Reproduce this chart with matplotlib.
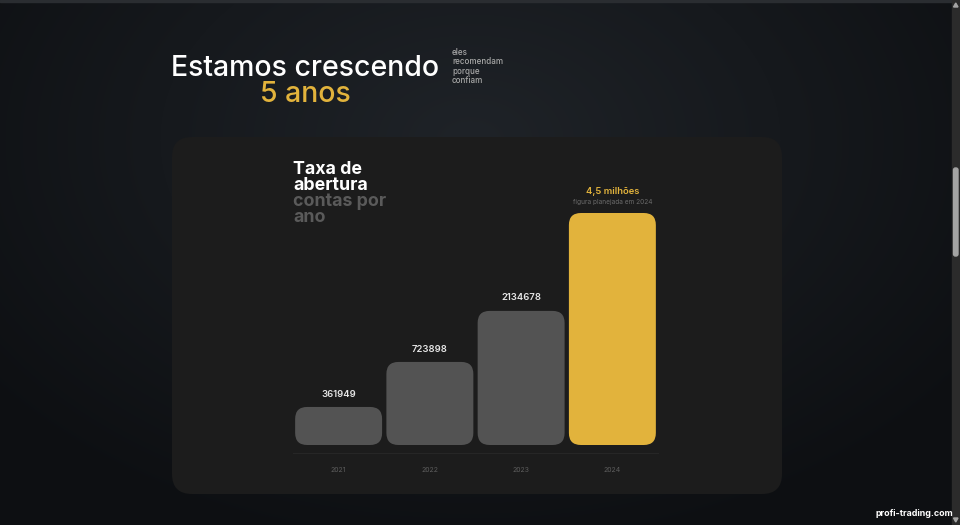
import numpy as np
import matplotlib
matplotlib.use("Agg")
import matplotlib.pyplot as plt
from matplotlib.patches import FancyBboxPatch, Rectangle, Polygon

plt.rcParams["font.family"] = ["Inter", "DejaVu Sans"]

# data
years = ["2021", "2022", "2023", "2024"]
value_labels = ["361949", "723898", "2134678", "4,5 milhões"]
bar_heights = [16.4, 35.8, 57.8, 100]   # visual height, % of tallest bar
bar_colors = ["#535353", "#535353", "#535353", "#e2b33c"]

W, H = 960, 525
fig = plt.figure(figsize=(W / 100, H / 100), dpi=100)


def fx(px):
    return px / W


def fy(py):
    return 1 - py / H


# page background: dark radial glow
bg = fig.add_axes([0, 0, 1, 1])
bg.set_axis_off()
yy, xx = np.mgrid[0:H, 0:W]
d = np.sqrt(((xx - 470) / 620) ** 2 + ((yy - 140) / 420) ** 2)
t = np.clip(d, 0, 1)[..., None]
c0 = np.array([0x1f, 0x23, 0x28]) / 255
c1 = np.array([0x0d, 0x0f, 0x12]) / 255
img = c0 * (1 - t) + c1 * t
bg.imshow(img, extent=[0, W, H, 0], aspect="auto")
bg.set_xlim(0, W)
bg.set_ylim(H, 0)
bg.add_patch(Rectangle((0, 0), W, 1.5, color="#2a2d31"))

# scrollbar
bg.add_patch(Rectangle((951.5, 0), 8.5, H, color="#2b2b2b"))
bg.add_patch(FancyBboxPatch((953.5, 168), 4.5, 88, boxstyle="round,pad=0,rounding_size=2",
                            color="#a4a4a4"))
bg.add_patch(Polygon([[953.5, 7], [958, 7], [955.75, 3]], color="#a4a4a4"))
bg.add_patch(Polygon([[953.5, 518], [958, 518], [955.75, 522]], color="#a4a4a4"))

# card
bg.add_patch(FancyBboxPatch((172, 137), 610, 357, boxstyle="round,pad=0,rounding_size=20",
                            color="#1c1c1c", lw=0))

# headings
fig.text(fx(305), fy(76), "Estamos crescendo", color="white", fontsize=20.5,
         fontweight="medium", ha="center", va="baseline")
fig.text(fx(305), fy(102), "5 anos", color="#e2b33c", fontsize=20.5,
         fontweight="medium", ha="center", va="baseline")
for i, w in enumerate(["eles", "recomendam", "porque", "confiam"]):
    fig.text(fx(452), fy(55 + i * 9.3), w, color="#a8a8a8", fontsize=5.8,
             fontweight="medium", ha="left", va="baseline")

for txt, base, col in [("Taxa de", 174, "white"), ("abertura", 190, "white"),
                       ("contas por", 206, "#5a5a5a"), ("ano", 222, "#5a5a5a")]:
    fig.text(fx(293), fy(base), txt, color=col, fontsize=12.8, fontweight="bold",
             ha="left", va="baseline")

fig.text(fx(953), fy(516), "profi-trading.com", color="white", fontsize=6.4,
         fontweight="bold", ha="right", va="baseline")

# bar chart
left, right, top, bottom = 293, 658, 213, 445
ax = fig.add_axes([fx(left), fy(bottom), fx(right - left), (bottom - top) / H])
ax.set_facecolor("none")
x = np.arange(len(years))
ax.set_xlim(-0.5, len(years) - 0.5)
ax.set_ylim(0, 100)
bars = ax.bar(x, bar_heights, width=0.953, color=bar_colors)

# swap the plain rectangles for rounded ones
px_x = (right - left) / len(years)        # pixels per x unit
px_y = (bottom - top) / 100               # pixels per y unit
aspect = px_x / px_y
radius = 12 / px_x
for b in bars:
    r = FancyBboxPatch((b.get_x(), b.get_y()), b.get_width(), b.get_height(),
                       boxstyle=f"round,pad=0,rounding_size={radius}",
                       mutation_aspect=aspect, color=b.get_facecolor(), lw=0)
    b.set_visible(False)
    ax.add_patch(r)

for i, (h, lab) in enumerate(zip(bar_heights, value_labels)):
    if i == len(years) - 1:
        ax.annotate(lab, (x[i], h), xytext=(0, 14), textcoords="offset points",
                    ha="center", va="baseline", color="#e2b33c", fontsize=6.8,
                    fontweight="semibold")
        ax.annotate("figura planejada em 2024", (x[i], h), xytext=(0, 6.8),
                    textcoords="offset points", ha="center", va="baseline",
                    color="#6a6a6a", fontsize=4.7)
    else:
        ax.annotate(lab, (x[i], h), xytext=(0, 7.5), textcoords="offset points",
                    ha="center", va="baseline", color="#e6e6e6", fontsize=6.8,
                    fontweight="semibold")

ax.axhline(-8 / px_y, color="#262626", lw=0.8, clip_on=False)
ax.set_xticks(x)
ax.set_xticklabels(years, color="#5e5e5e", fontsize=5)
ax.tick_params(axis="x", length=0, pad=15.5)
ax.set_yticks([])
for s in ax.spines.values():
    s.set_visible(False)

fig.savefig("out.png", dpi=100, facecolor="#0e1013")
